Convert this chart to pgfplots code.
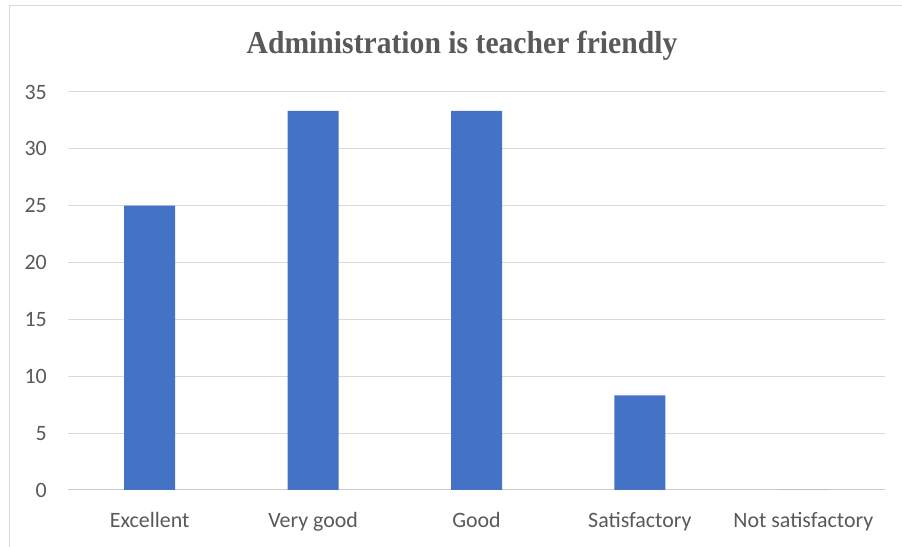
\documentclass[border=0pt]{standalone}
\usepackage{pgfplots}
\pgfplotsset{compat=1.18}
\usepackage{fontspec}
\setmainfont{Carlito}
\newfontfamily\titlefont{Liberation Serif}
\definecolor{barblue}{HTML}{4472C4}
\definecolor{txtgray}{HTML}{595959}
\definecolor{gridgray}{HTML}{D9D9D9}
\begin{document}
\begin{tikzpicture}
\path[use as bounding box] (0,0) rectangle (902bp,547bp);
\draw[gridgray, line width=1bp] (9bp,0) -- (9bp,541bp) -- (902bp,541bp);
\node[text=txtgray, font=\titlefont\bfseries\fontsize{32}{34}\selectfont, anchor=base] at (462bp,493bp) {\scalebox{0.93}[1]{Administration is teacher friendly}};
\begin{axis}[
  at={(68bp,57bp)}, anchor=south west,
  scale only axis, width=817bp, height=398bp,
  ybar, bar width=51bp,
  xmin=-0.5, xmax=4.5, ymin=0, ymax=35,
  ytick={0,5,...,35},
  xtick=data,
  xticklabels={Excellent,Very good,Good,Satisfactory,Not satisfactory},
  xticklabel style={font=\fontsize{22}{24}\selectfont, text=txtgray, anchor=base, inner sep=0pt, yshift=-37bp},
  yticklabel style={font=\fontsize{22}{24}\selectfont, text=txtgray, anchor=east, inner sep=0pt, xshift=-21bp},
  /pgf/number format/assume math mode=true,
  major tick length=0pt,
  ymajorgrids, grid style={gridgray, line width=1bp},
  axis x line*=bottom,
  axis y line*=left,
  y axis line style={draw=none},
  x axis line style={draw=gridgray!85!gray, line width=1bp},
  clip=false,
]
\addplot[fill=barblue, draw=none] coordinates {(0,25) (1,33.33) (2,33.33) (3,8.33) (4,0)};
\end{axis}
\end{tikzpicture}
\end{document}
